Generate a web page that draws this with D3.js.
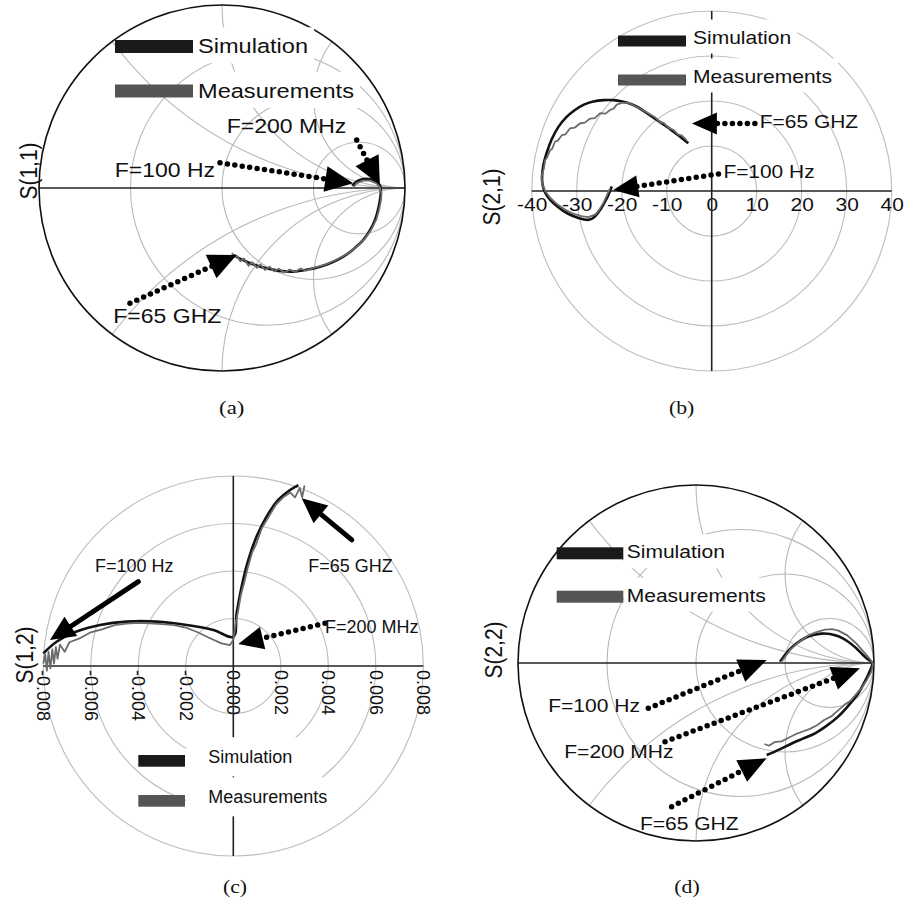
<!DOCTYPE html>
<html>
<head>
<meta charset="utf-8">
<script src="https://cdnjs.cloudflare.com/ajax/libs/d3/7.8.5/d3.min.js"></script>
<style>
  body { margin: 0; background: #fff; }
  svg text { font-family: "Liberation Sans", Arial, sans-serif; fill: #111; }
  svg text.cap { font-family: "Liberation Serif", "Times New Roman", serif; }
</style>
</head>
<body>
<div id="chart"></div>
<script>
// smith grid: constant resistance circles, constant reactance arcs
const smithR = [1/3, 1, 3];
const smithX = [0.5, 1, 2];

// S(1,1) reflection coefficient [re, im]
const s11Sim = [[0.712,0.012],[0.735,0.035],[0.772,0.049],[0.812,0.048],[0.846,0.033],[0.864,0.012],[0.868,-0.02],[0.863,-0.066],[0.852,-0.12],[0.836,-0.175],[0.808,-0.232],[0.772,-0.284],[0.72,-0.333],[0.663,-0.375],[0.60,-0.407],[0.536,-0.430],[0.463,-0.447],[0.390,-0.457],[0.315,-0.453],[0.244,-0.439],[0.185,-0.422],[0.135,-0.403],[0.095,-0.385],[0.062,-0.366]];
const s11Meas = [[0.715,0.0],[0.735,0.025],[0.77,0.04],[0.81,0.04],[0.845,0.025],[0.862,0.005],[0.872,-0.03],[0.868,-0.07],[0.858,-0.12],[0.844,-0.17],[0.817,-0.225],[0.78,-0.278],[0.735,-0.322],[0.68,-0.362],[0.62,-0.395],[0.56,-0.42],[0.50,-0.437],[0.46,-0.452],[0.43,-0.44],[0.40,-0.458],[0.37,-0.446],[0.34,-0.462],[0.31,-0.441],[0.285,-0.455],[0.26,-0.43],[0.235,-0.448],[0.21,-0.418],[0.19,-0.436],[0.165,-0.405],[0.145,-0.425],[0.12,-0.385],[0.10,-0.40],[0.08,-0.37],[0.065,-0.375],[0.055,-0.355]];

// S(2,1) polar
const s21Ticks = [-40, -30, -20, -10, 0, 10, 20, 30, 40];
const s21Rings = [10, 20, 30, 40];
const s21Sim = [[-22.2,1.0],[-23.3,-1.6],[-24.8,-4.2],[-26.0,-5.7],[-27.3,-6.4],[-29.6,-6.0],[-32.0,-5.0],[-34.1,-3.6],[-35.9,-2.0],[-37.0,-0.4],[-37.6,1.5],[-37.7,3.2],[-37.4,5.8],[-36.7,8.4],[-35.6,11.4],[-34.1,14.2],[-32.4,16.3],[-30.4,18.0],[-28.4,19.2],[-26.3,19.9],[-24.0,20.2],[-21.9,20.2],[-19.9,19.9],[-18.1,19.4],[-16.2,18.5],[-14.4,17.3],[-12.2,15.8],[-10.0,14.3],[-7.6,12.5],[-5.2,10.6]];
const s21Meas = [[-22.6,0.6],[-23.4,-1.2],[-24.1,-2.7],[-25.0,-4.2],[-25.8,-5.2],[-27.4,-5.8],[-29.0,-5.6],[-30.6,-5.1],[-32.5,-4.2],[-34.4,-2.9],[-35.9,-1.5],[-37.0,0.0],[-37.7,1.6],[-37.8,3.2],[-37.3,5.0],[-37.0,6.9],[-36.6,7.4],[-35.9,9.1],[-35.5,9.3],[-34.8,11.0],[-34.2,11.2],[-33.3,12.4],[-32.5,12.6],[-31.5,13.9],[-30.4,14.1],[-29.3,15.0],[-28.2,15.2],[-27.0,16.1],[-26.0,16.2],[-24.8,17.3],[-23.6,17.2],[-22.6,18.0],[-21.8,18.3],[-21.1,19.2],[-20.0,19.6],[-18.5,19.6],[-16.5,18.6],[-14.5,17.5],[-12.6,16.4],[-11.5,15.3],[-10.6,15.1],[-9.6,14.0],[-8.5,13.6],[-7.5,12.6],[-6.6,12.3],[-5.5,11.2]];

// S(1,2) polar
const s12Ticks = [-0.008, -0.006, -0.004, -0.002, 0, 0.002, 0.004, 0.006, 0.008];
const s12Rings = [0.002, 0.004, 0.006, 0.008];
const s12Sim = [[-0.0080,0.00053],[-0.00744,0.00102],[-0.0066,0.00145],[-0.00561,0.00173],[-0.00449,0.00187],[-0.00323,0.00187],[-0.00196,0.00173],[-0.00084,0.00152],[0.0,0.00123],[0.00014,0.00222],[0.00035,0.00334],[0.00063,0.00446],[0.00098,0.00545],[0.0014,0.00629],[0.00189,0.00699],[0.00239,0.00741],[0.00274,0.00762]];
const s12Meas = [[-0.0080,0.0001],[-0.00792,0.0005],[-0.00785,-0.0002],[-0.00778,0.0006],[-0.0077,-0.0001],[-0.00762,0.0007],[-0.00755,0.0001],[-0.00747,0.0008],[-0.0074,0.0003],[-0.0073,0.0009],[-0.0071,0.0006],[-0.0069,0.0010],[-0.0065,0.00115],[-0.0060,0.00142],[-0.0055,0.00155],[-0.0050,0.00172],[-0.0045,0.00178],[-0.0040,0.00182],[-0.0035,0.0018],[-0.0030,0.00176],[-0.0025,0.00172],[-0.0020,0.00162],[-0.0015,0.00142],[-0.0010,0.00118],[-0.0005,0.00095],[-0.00014,0.00088],[0.0,0.0011],[0.00012,0.0019],[0.0002,0.0023],[0.00032,0.003],[0.00048,0.0036],[0.0006,0.0041],[0.0008,0.0048],[0.00095,0.0051],[0.0012,0.0058],[0.0015,0.0063],[0.0018,0.0068],[0.0021,0.0071],[0.0024,0.0073],[0.0026,0.0071],[0.0028,0.0075],[0.0029,0.0071],[0.003,0.0076]];

// S(2,2) reflection coefficient
const s22Sim = [[0.472,0.007],[0.52,0.07],[0.566,0.111],[0.615,0.142],[0.659,0.157],[0.705,0.165],[0.753,0.163],[0.80,0.15],[0.847,0.125],[0.89,0.092],[0.925,0.058],[0.96,0.025],[0.99,0.0],[0.97,-0.06],[0.94,-0.12],[0.912,-0.17],[0.86,-0.235],[0.80,-0.30],[0.735,-0.352],[0.669,-0.395],[0.60,-0.425],[0.538,-0.452],[0.47,-0.485],[0.397,-0.517]];
const s22Meas = [[0.475,0.0],[0.53,0.075],[0.58,0.12],[0.63,0.155],[0.68,0.175],[0.725,0.188],[0.765,0.19],[0.80,0.182],[0.85,0.155],[0.90,0.11],[0.94,0.065],[0.975,0.025],[0.995,-0.005],[0.985,-0.05],[0.96,-0.095],[0.93,-0.14],[0.90,-0.175],[0.87,-0.21],[0.84,-0.23],[0.80,-0.265],[0.76,-0.30],[0.72,-0.32],[0.68,-0.35],[0.64,-0.37],[0.60,-0.385],[0.56,-0.40],[0.52,-0.42],[0.48,-0.44],[0.44,-0.445],[0.41,-0.465],[0.385,-0.455]];

// frequency markers, in data units: label, tail, tip
const s11Notes = [
  {text: "F=100 Hz", at: [-0.038, 0.062], anchor: "end", from: [-0.011, 0.138], to: [0.717, 0.026], dotted: true},
  {text: "F=200 MHz", at: [0.026, 0.299], anchor: "start", from: [0.736, 0.262], to: [0.863, 0.016], dotted: true},
  {text: "F=65 GHZ", at: [-0.594, -0.739], anchor: "start", from: [-0.503, -0.63], to: [0.08, -0.366], dotted: true}
];
const s21Notes = [
  {text: "F=65 GHZ", at: [10.7, 13.9], anchor: "start", from: [9.6, 15.0], to: [-4.4, 15.0], dotted: true},
  {text: "F=100 Hz", at: [2.6, 2.8], anchor: "start", from: [1.5, 3.8], to: [-21.9, 0.2], dotted: true}
];
const s12Notes = [
  {text: "F=100 Hz", at: [-0.00582, 0.00397], anchor: "start", from: [-0.004, 0.00355], to: [-0.00772, 0.00109], dotted: false},
  {text: "F=65 GHZ", at: [0.00316, 0.00397], anchor: "start", from: [0.00499, 0.00531], to: [0.00288, 0.00706], dotted: false},
  {text: "F=200 MHz", at: [0.00386, 0.00138], anchor: "start", from: [0.00386, 0.0018], to: [0.00021, 0.00093], dotted: true}
];
const s22Notes = [
  {text: "F=100 Hz", at: [-0.83, -0.274], anchor: "start", from: [-0.268, -0.254], to: [0.397, 0.017], dotted: true},
  {text: "F=200 MHz", at: [-0.74, -0.535], anchor: "start", from: [-0.174, -0.442], to: [0.921, -0.03], dotted: true},
  {text: "F=65 GHZ", at: [-0.315, -0.938], anchor: "start", from: [-0.137, -0.807], to: [0.397, -0.535], dotted: true}
];

const seriesNames = ["Simulation", "Measurements"];
const seriesColors = ["#1a1a1a", "#555"];

const svg = d3.select("#chart").append("svg")
    .attr("width", 912)
    .attr("height", 903);

// text, optionally widened to match the scanned figure
function addText(g, x, y, str, size, stretch, anchor) {
  const t = g.append("text")
      .attr("x", x).attr("y", y)
      .attr("font-size", size)
      .attr("text-anchor", anchor || "start")
      .text(str);
  if (stretch && stretch !== 1) {
    const w = t.node().getComputedTextLength();
    t.attr("textLength", w * stretch).attr("lengthAdjust", "spacingAndGlyphs");
  }
  return t;
}

function arrow(g, p0, p1, dotted, L, W) {
  const dx = p1[0] - p0[0], dy = p1[1] - p0[1], len = Math.hypot(dx, dy);
  const ux = dx / len, uy = dy / len;
  const bx = p1[0] - ux * L, by = p1[1] - uy * L;
  g.append("line")
      .attr("x1", p0[0]).attr("y1", p0[1])
      .attr("x2", bx + ux * 3).attr("y2", by + uy * 3)
      .attr("stroke", "#000")
      .attr("stroke-width", dotted ? 5.5 : 5)
      .attr("stroke-linecap", "round")
      .attr("stroke-dasharray", dotted ? "0 7.5" : null);
  g.append("path")
      .attr("d", `M${p1[0]},${p1[1]}L${bx - uy * W / 2},${by + ux * W / 2}L${bx + uy * W / 2},${by - ux * W / 2}Z`)
      .attr("fill", "#000");
}

function panel(cfg) {
  const g = svg.append("g");
  const x = d3.scaleLinear().domain([-cfg.max, cfg.max]).range([cfg.cx - cfg.R, cfg.cx + cfg.R]);
  const y = d3.scaleLinear().domain([-cfg.max, cfg.max]).range([cfg.cy + cfg.R, cfg.cy - cfg.R]);
  const gridL = g.append("g"), boxL = g.append("g"), markL = g.append("g"), noteL = g.append("g");

  if (cfg.smith) {
    g.append("clipPath").attr("id", "clip" + cfg.name)
      .append("circle").attr("cx", x(0)).attr("cy", y(0)).attr("r", cfg.R);
    const grid = gridL.append("g")
        .attr("clip-path", `url(#clip${cfg.name})`)
        .attr("fill", "none").attr("stroke", "#b8b8b8").attr("stroke-width", 1.1);
    grid.selectAll("circle.res").data(smithR).join("circle").attr("class", "res")
        .attr("cx", r => x(r / (1 + r))).attr("cy", y(0))
        .attr("r", r => x(1 / (1 + r)) - x(0));
    grid.selectAll("circle.rea").data(smithX.flatMap(v => [v, -v])).join("circle").attr("class", "rea")
        .attr("cx", x(1)).attr("cy", v => y(1 / v))
        .attr("r", v => x(1 / Math.abs(v)) - x(0));
    gridL.append("line")
        .attr("x1", x(-1)).attr("x2", x(1)).attr("y1", y(0)).attr("y2", y(0))
        .attr("stroke", "#222").attr("stroke-width", 1.3);
    gridL.append("circle")
        .attr("cx", x(0)).attr("cy", y(0)).attr("r", cfg.R)
        .attr("fill", "none").attr("stroke", "#111").attr("stroke-width", 1.6);
  } else {
    gridL.selectAll("circle.ring").data(cfg.rings).join("circle").attr("class", "ring")
        .attr("cx", x(0)).attr("cy", y(0))
        .attr("r", v => x(v) - x(0))
        .attr("fill", "none").attr("stroke", "#bdbdbd").attr("stroke-width", 1.1);
    const ax = gridL.append("g")
        .attr("transform", `translate(0,${y(0)})`)
        .call(d3.axisBottom(x).tickValues(cfg.ticks).tickSize(0).tickPadding(cfg.pad).tickFormat(cfg.fmt))
        .attr("font-size", cfg.tickSize);
    ax.select(".domain").remove();
    if (cfg.rotate) {
      ax.selectAll("text")
          .attr("transform", "rotate(90)")
          .attr("x", 4).attr("y", 0).attr("dy", "0.35em")
          .style("text-anchor", "start");
    } else if (cfg.stretch) {
      ax.selectAll("text").each(function() {
        const w = this.getComputedTextLength();
        d3.select(this).attr("textLength", w * cfg.stretch).attr("lengthAdjust", "spacingAndGlyphs");
      });
    }
    gridL.append("line")
        .attr("x1", x(-cfg.max)).attr("x2", x(cfg.max)).attr("y1", y(0)).attr("y2", y(0))
        .attr("stroke", "#222").attr("stroke-width", 1.6);
    gridL.append("line")
        .attr("x1", x(0)).attr("x2", x(0)).attr("y1", y(cfg.max)).attr("y2", y(-cfg.max))
        .attr("stroke", "#222").attr("stroke-width", 1.6);
  }

  // curves
  const line = d3.line().x(d => x(d[0])).y(d => y(d[1]));
  markL.append("path").datum(cfg.sim)
      .attr("d", line.curve(d3.curveCatmullRom)).attr("fill", "none")
      .attr("stroke", "#111").attr("stroke-width", 2.6).attr("stroke-linejoin", "round");
  markL.append("path").datum(cfg.meas)
      .attr("d", line.curve(d3.curveLinear)).attr("fill", "none")
      .attr("stroke", "#6b6b6b").attr("stroke-width", 1.8).attr("stroke-linejoin", "round");

  // frequency markers
  cfg.notes.forEach(n => {
    arrow(noteL, [x(n.from[0]), y(n.from[1])], [x(n.to[0]), y(n.to[1])], n.dotted, cfg.arrow[0], cfg.arrow[1]);
    addText(noteL, x(n.at[0]), y(n.at[1]), n.text, cfg.noteSize, cfg.stretch, n.anchor);
  });

  // legend with white boxes behind the names
  const lg = cfg.legend;
  seriesNames.forEach((name, i) => {
    noteL.append("rect")
        .attr("x", lg.x).attr("y", lg.rows[i])
        .attr("width", lg.w).attr("height", lg.h)
        .attr("fill", seriesColors[i]);
    const t = addText(noteL, lg.tx, lg.rows[i] + lg.dy, name, lg.size, cfg.stretch, "start");
    const b = t.node().getBBox();
    boxL.append("rect")
        .attr("x", b.x - lg.pad[0]).attr("y", b.y - lg.pad[1])
        .attr("width", b.width + lg.pad[0] + lg.pad[2])
        .attr("height", b.height + lg.pad[1] + lg.pad[3])
        .attr("fill", "#fff");
  });

  // y label and caption
  svg.append("text")
      .attr("transform", `translate(${cfg.ylab[0]},${cfg.ylab[1]}) scale(1.12,1) rotate(-90)`)
      .attr("text-anchor", "middle")
      .attr("font-size", 21)
      .text(cfg.title);
  addText(svg, cfg.cap[0], cfg.cap[1], cfg.caption, 18, 1.15, "middle").attr("class", "cap");
}

panel({name: "a", smith: true, max: 1, cx: 222, cy: 188, R: 183,
  sim: s11Sim, meas: s11Meas, notes: s11Notes, noteSize: 20, stretch: 1.15, arrow: [28, 26],
  legend: {x: 115, w: 78, h: 13, rows: [40, 84.5], tx: 198, dy: 13.3, size: 20.5, pad: [3, 7, 6, 6]},
  title: "S(1,1)", ylab: [37, 171], caption: "(a)", cap: [231.7, 414]});

panel({name: "b", smith: false, max: 40, cx: 711.7, cy: 191, R: 180, rings: s21Rings,
  ticks: s21Ticks, fmt: d => String(d), pad: 7, tickSize: 18.5, stretch: 1.13,
  sim: s21Sim, meas: s21Meas, notes: s21Notes, noteSize: 18.5, arrow: [25, 22],
  legend: {x: 618, w: 68, h: 11, rows: [35.5, 74.5], tx: 693, dy: 8, size: 18.6, pad: [3, 7, 6, 6]},
  title: "S(2,1)", ylab: [500, 197], caption: "(b)", cap: [681.7, 414]});

panel({name: "c", smith: false, max: 0.008, cx: 233.3, cy: 666, R: 190, rings: s12Rings,
  ticks: s12Ticks, fmt: d => d.toFixed(3), pad: 4, tickSize: 18, rotate: true, stretch: 1,
  sim: s12Sim, meas: s12Meas, notes: s12Notes, noteSize: 18, arrow: [25, 23],
  legend: {x: 138.3, w: 46.7, h: 11.7, rows: [755, 795], tx: 208.3, dy: 8.3, size: 18, pad: [22, 10, 4, 9]},
  title: "S(1,2)", ylab: [33.3, 655], caption: "(c)", cap: [235, 893]});

panel({name: "d", smith: true, max: 1, cx: 696, cy: 663, R: 178,
  sim: s22Sim, meas: s22Meas, notes: s22Notes, noteSize: 18.3, stretch: 1.15, arrow: [28, 24],
  legend: {x: 556.7, w: 66.6, h: 12, rows: [547.3, 590.7], tx: 626.7, dy: 11, size: 18.3, pad: [3, 7, 6, 6]},
  title: "S(2,2)", ylab: [501.7, 650], caption: "(d)", cap: [687, 893]});
</script>
</body>
</html>
